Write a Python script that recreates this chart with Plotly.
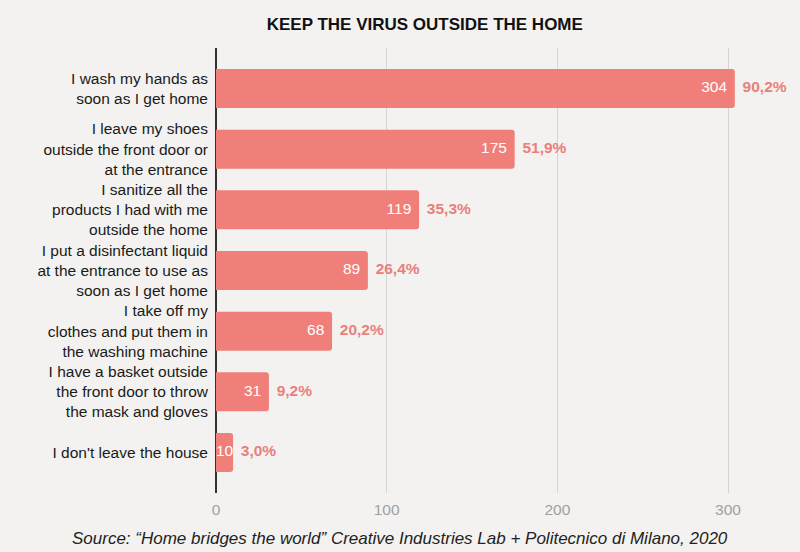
import plotly.graph_objects as go

labels = [
    "I wash my hands as<br>soon as I get home",
    "I leave my shoes<br>outside the front door or<br>at the entrance",
    "I sanitize all the<br>products I had with me<br>outside the home",
    "I put a disinfectant liquid<br>at the entrance to use as<br>soon as I get home",
    "I take off my<br>clothes and put them in<br>the washing machine",
    "I have a basket outside<br>the front door to throw<br>the mask and gloves",
    "I don't leave the house",
]
counts = [304, 175, 119, 89, 68, 31, 10]
shares = ["90,2%", "51,9%", "35,3%", "26,4%", "20,2%", "9,2%", "3,0%"]
x_ticks = [0, 100, 200, 300]

BG = "#f3f2f0"
BAR = "#f07f7a"
FONT = "Liberation Sans, Arial, Helvetica, sans-serif"
EN = "\u2002"  # spazio "en" per staccare le etichette dalla fine della barra

fig = go.Figure()

fig.add_bar(
    x=counts, y=labels, orientation="h",
    marker=dict(color=BAR, cornerradius=3, line_width=0),
    hoverinfo="skip", showlegend=False,
)

# valori assoluti dentro la barra; se la barra e' troppo corta parte dalla base
narrow = [c < 20 for c in counts]
fig.add_scatter(
    x=[0 if n else c for c, n in zip(counts, narrow)], y=labels, mode="text",
    text=[str(c) if n else f"{c}{EN}" for c, n in zip(counts, narrow)],
    textposition=["middle right" if n else "middle left" for n in narrow],
    textfont=dict(color="white", size=15.5, family=FONT),
    hoverinfo="skip", showlegend=False, cliponaxis=False,
)

# percentuali a destra della barra
fig.add_scatter(
    x=counts, y=labels, mode="text",
    text=[EN + s for s in shares], textposition="middle right",
    textfont=dict(color="#e8807b", size=15.5, family=FONT, weight="bold"),
    hoverinfo="skip", showlegend=False, cliponaxis=False,
)

fig.update_layout(
    width=800, height=552,
    paper_bgcolor=BG, plot_bgcolor=BG,
    font=dict(family=FONT, size=15.5, color="#222222"),
    margin=dict(l=216, r=8, t=48, b=59),
    bargap=0.357,
    title=dict(text="<b>KEEP THE VIRUS OUTSIDE THE HOME</b>",
               x=0.531, xanchor="center", y=1 - 24.5 / 552, yanchor="middle",
               font=dict(size=17, color="#111111", family=FONT)),
    annotations=[dict(
        text="<i>Source: \u201cHome bridges the world\u201d Creative Industries Lab + Politecnico di Milano, 2020</i>",
        xref="paper", yref="paper",
        x=(400 - 216) / (800 - 216 - 8), y=-(538 - 493) / (493 - 48),
        xanchor="center", yanchor="middle", showarrow=False,
        font=dict(size=17, color="#222222", family=FONT),
    )],
)

fig.update_xaxes(
    range=[0, 337.5], tickvals=x_ticks, showgrid=True,
    gridcolor="#d4d4d4", gridwidth=1,
    zeroline=True, zerolinecolor="#333333", zerolinewidth=1.5,
    tickfont=dict(color="#a0a0a0", size=15.5), ticks="", showline=False,
    ticklabelstandoff=5, fixedrange=True,
)
fig.update_yaxes(
    range=[6.668, -0.668], showgrid=False, ticks="", showline=False,
    tickfont=dict(size=15.5, color="#1a1a1a"), ticklabelstandoff=7,
    fixedrange=True,
)

# il body della pagina ha un margine di default: lo azzero
fig.write_html(
    "out.html",
    config={"displayModeBar": False},
    post_script="document.body.style.margin='0';document.body.style.overflow='hidden';",
)
